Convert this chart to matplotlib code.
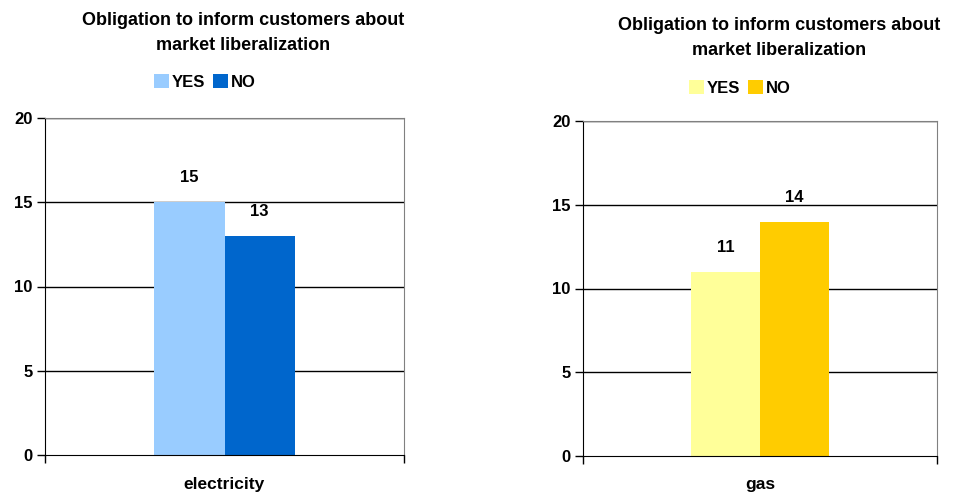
import matplotlib.pyplot as plt
from matplotlib.patches import Patch

plt.rcParams['font.family'] = ['Liberation Sans', 'DejaVu Sans']
plt.rcParams['font.weight'] = 'bold'

title = "Obligation to inform customers about\nmarket liberalization"
series = ["YES", "NO"]
sectors = ["electricity", "gas"]
elec_values = [15, 13]
gas_values = [11, 14]
elec_colors = ["#99ccff", "#0066cc"]
gas_colors = ["#ffff99", "#ffcc00"]
yticks = [0, 5, 10, 15, 20]

W, H = 973, 495
fig = plt.figure(figsize=(W / 100, H / 100), dpi=100)

# axes box (px), title centre (px), legend centre (px)
panels = [
	((45, 118, 404, 455), elec_values, elec_colors, sectors[0], (243, 33), (205, 82)),
	((583, 121, 937, 456), gas_values, gas_colors, sectors[1], (779, 38), (740, 88)),
]

bar_w = 0.195
for box, values, colors, label, tpos, lpos in panels:
	x0, y0, x1, y1 = box
	ax = fig.add_axes([x0 / W, 1 - y1 / H, (x1 - x0) / W, (y1 - y0) / H])
	xs = [-bar_w / 2, bar_w / 2]
	bars = ax.bar(xs, values, width=bar_w, color=colors, zorder=3)
	for b, v in zip(bars, values):
		ax.text(b.get_x() + b.get_width() / 2, v + 1.0, str(v), ha="center", va="bottom",
				fontsize=12, fontweight="bold")

	ax.set_xlim(-0.5, 0.5)
	ax.set_ylim(0, 20)
	ax.set_yticks(yticks)
	ax.set_yticklabels([str(t) for t in yticks], fontsize=12, fontweight="bold")
	ax.set_xticks([-0.5, 0.5])
	ax.set_xticklabels(["", ""])
	ax.tick_params(axis="y", direction="out", length=6, width=1, pad=3)
	ax.tick_params(axis="x", direction="out", length=6, width=1)
	ax.text(0.5, -29 / (y1 - y0), label, transform=ax.transAxes, ha="center", va="center",
			fontsize=12.5, fontweight="bold")

	for y in yticks[1:]:
		ax.axhline(y, color="black", linewidth=1, zorder=1)
	ax.spines["top"].set_color("#808080")
	ax.spines["right"].set_color("#808080")
	ax.spines["left"].set_color("black")
	ax.spines["bottom"].set_color("black")
	ax.spines["bottom"].set_zorder(4)

	fig.text(tpos[0] / W, 1 - tpos[1] / H, title, ha="center", va="center", fontsize=13,
			 fontweight="bold", linespacing=1.6)
	handles = [Patch(facecolor=c, edgecolor="none") for c in colors]
	fig.legend(handles, series, loc="center", bbox_to_anchor=(lpos[0] / W, 1 - lpos[1] / H),
			   ncol=2, frameon=False, handlelength=0.9, handleheight=0.9,
			   handletextpad=0.15, columnspacing=0.5, borderpad=0,
			   prop={"weight": "bold", "size": 12})

fig.savefig("out.png", dpi=100)
